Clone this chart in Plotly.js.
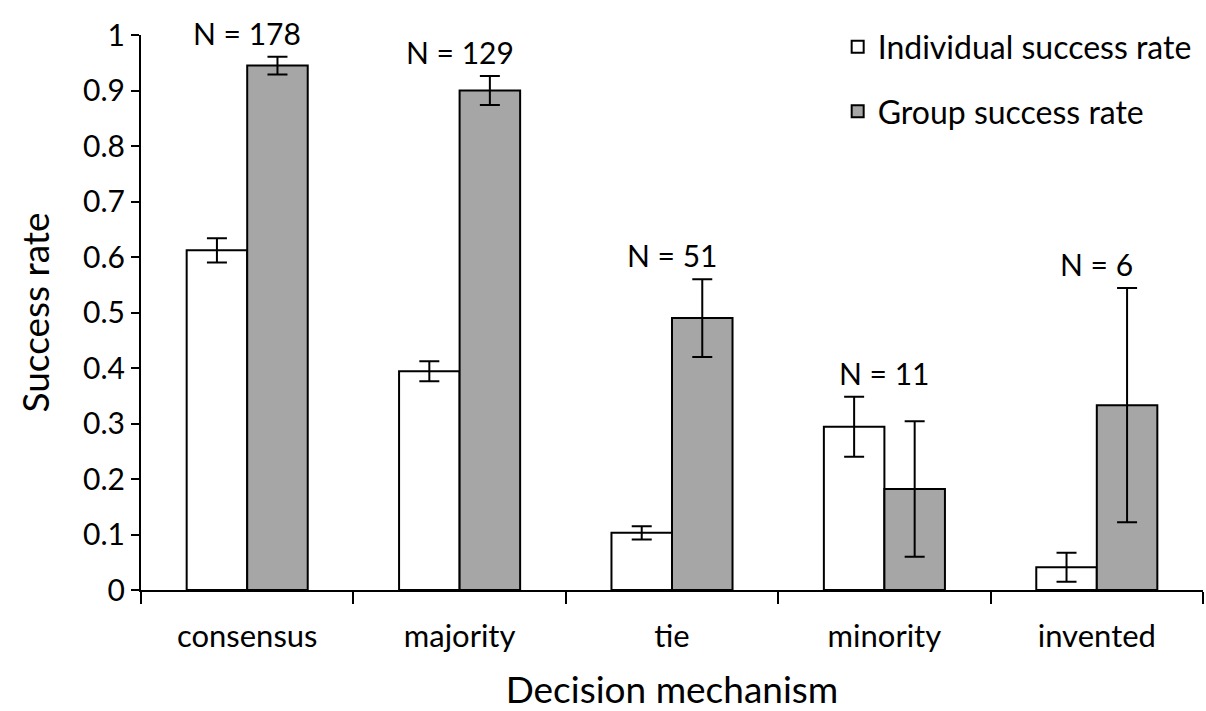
<!DOCTYPE html>
<html>
<head>
<meta charset="utf-8">
<script src="https://cdn.plot.ly/plotly-3.0.1.min.js"></script>
<style>html,body{margin:0;padding:0;background:#fff;}</style>
</head>
<body>
<div id="chart" style="width:1206px;height:711px;"></div>
<script>
const categories = ["consensus", "majority", "tie", "minority", "invented"];
const individualRate = [0.612, 0.394, 0.103, 0.294, 0.041];
const individualErr = [0.022, 0.018, 0.012, 0.054, 0.026];
const groupRate = [0.945, 0.900, 0.490, 0.182, 0.333];
const groupErr = [0.016, 0.026, 0.070, 0.122, 0.211];
const groupN = [178, 129, 51, 11, 6];
const yTicks = [0, 0.1, 0.2, 0.3, 0.4, 0.5, 0.6, 0.7, 0.8, 0.9, 1];
const yTickLabels = ["0", "0.1", "0.2", "0.3", "0.4", "0.5", "0.6", "0.7", "0.8", "0.9", "1"];

const FONT = "Lato, 'Open Sans', sans-serif";

const traces = [
  {
    type: "bar", name: "Individual success rate", x: categories, y: individualRate,
    legendgroup: "a",
    marker: {color: "#ffffff", line: {color: "#000", width: 2}},
    error_y: {type: "data", array: individualErr, visible: true, color: "#000", thickness: 2, width: 10}
  },
  {
    type: "bar", name: "Group success rate", x: categories, y: groupRate,
    legendgroup: "b",
    marker: {color: "#a6a6a6", line: {color: "#000", width: 2}},
    error_y: {type: "data", array: groupErr, visible: true, color: "#000", thickness: 2, width: 10}
  }
];

const annotations = categories.map((c, i) => ({
  x: c, xref: "x", yref: "y",
  y: Math.max(individualRate[i] + individualErr[i], groupRate[i] + groupErr[i]),
  yanchor: "bottom", yshift: 4,
  text: "N = " + groupN[i], showarrow: false,
  font: {family: FONT, size: 30, color: "#000"}
}));

const layout = {
  width: 1206, height: 711,
  margin: {l: 141, r: 3, t: 35, b: 121},
  paper_bgcolor: "#fff", plot_bgcolor: "#fff",
  barmode: "group", bargap: 0.43, bargroupgap: 0,
  font: {family: FONT, color: "#000"},
  showlegend: true,
  legend: {
    x: 0.656, xanchor: "left", y: 1.028, yanchor: "top",
    font: {family: FONT, size: 32, color: "#000"},
    tracegroupgap: 20, bgcolor: "rgba(0,0,0,0)"
  },
  xaxis: {
    type: "category", showline: true, linecolor: "#000", linewidth: 2,
    ticks: "outside", tickson: "boundaries", ticklen: 12, tickwidth: 2, tickcolor: "#000",
    tickfont: {family: FONT, size: 31, color: "#000"},
    ticklabelstandoff: 18,
    showgrid: false, zeroline: false,
    title: {text: "Decision mechanism", font: {family: FONT, size: 37, color: "#000"}, standoff: 24}
  },
  yaxis: {
    range: [0, 1], showline: true, linecolor: "#000", linewidth: 2,
    ticks: "outside", ticklen: 8, tickwidth: 2, tickcolor: "#000",
    tickvals: yTicks, ticktext: yTickLabels,
    tickfont: {family: FONT, size: 30, color: "#000"},
    showgrid: false, zeroline: false,
    title: {text: "Success rate", font: {family: FONT, size: 37, color: "#000"}, standoff: 22}
  },
  annotations: annotations
};

Plotly.newPlot("chart", traces, layout, {displayModeBar: false, staticPlot: true});
</script>
</body>
</html>
